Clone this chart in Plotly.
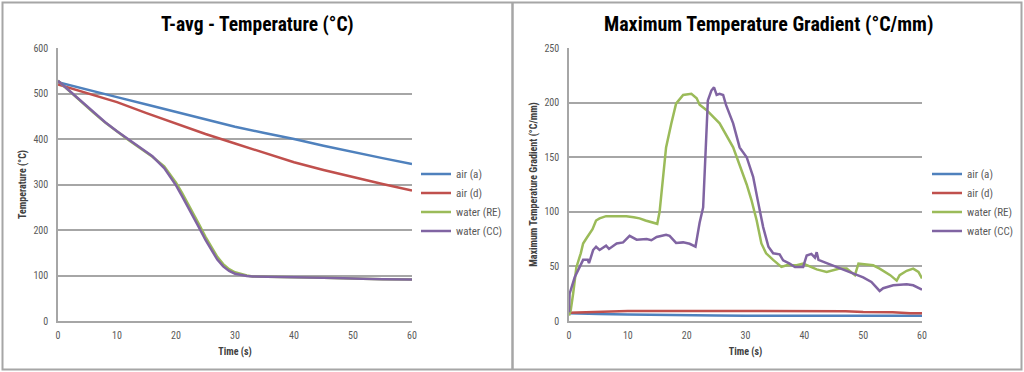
import plotly.graph_objects as go

# ---------------- Left panel: T-avg temperature ----------------
t_air = [0, 5, 10, 15, 20, 25, 30, 35, 40, 45, 50, 55, 60]
temp_air_a = [525, 508, 492, 476, 460, 444, 427, 413, 400, 385, 371, 358, 345]
temp_air_d = [520, 500, 481, 457, 434, 411, 390, 369, 349, 332, 316, 301, 287]

t_water = [0, 2, 4, 6, 8, 10, 12, 14, 16, 18, 19, 20, 21, 22, 23, 24, 25, 26,
           27, 28, 29, 30, 31, 32, 33, 35, 40, 45, 50, 55, 60]
temp_water_re = [528, 504, 481, 458, 436, 416, 397, 379, 361, 340, 323, 304, 282,
                 259, 235, 210, 185, 162, 141, 125, 114, 107, 103, 100, 98, 97,
                 96, 95, 93, 92, 91]
temp_water_cc = [528, 505, 482, 459, 437, 417, 398, 380, 362, 336, 318, 298, 275,
                 252, 228, 203, 178, 155, 135, 120, 110, 104, 101, 99, 98, 97,
                 96, 95, 93, 92, 91]

# ---------------- Right panel: maximum temperature gradient ----------------
t_grad_air_a = [0, 2, 5, 10, 15, 20, 25, 30, 40, 50, 60]
grad_air_a = [7, 7, 6.5, 6, 5.5, 5.2, 5, 4.8, 4.8, 4.8, 4.8]

t_grad_air_d = [0, 3, 6, 10, 20, 30, 40, 47, 50, 55, 58, 60]
grad_air_d = [7.5, 8, 9, 9.2, 9.2, 9.2, 9.0, 9.0, 8.2, 8.0, 7.2, 7.2]

t_grad_re = [0, 0.3, 0.7, 1.25, 2, 2.4, 3, 3.5, 4, 4.6, 5.2, 6.3, 8, 9.75, 11, 12,
             13, 14.3, 15, 15.4, 16, 16.5, 17.4, 18.2, 19.4, 20.8, 21.7, 22.2,
             23.4, 25.6, 27.9, 30.2, 31, 31.9, 32.7, 33.5, 34.7, 36.1, 37, 38.7,
             39.8, 41, 42.1, 43.8, 44.9, 46, 47.2, 48.6, 49.2, 50, 51.7, 52.8,
             54.6, 55.7, 56.2, 57.4, 58.5, 59.4, 60]
grad_re = [5, 10, 25, 49, 62, 71, 76, 80, 84, 92, 94, 96, 96, 96, 95, 94,
           92, 90, 89, 100, 130, 159, 181, 199, 207, 208, 204, 198,
           193, 181, 159, 125, 111, 92, 71, 62, 56, 49.5, 51, 51,
           52.5, 49.5, 47.3, 45, 46.4, 48, 48, 42, 52.5, 52, 51, 48,
           42, 37, 42, 46, 48, 45, 39]

t_grad_cc = [0, 0.1, 0.97, 1.8, 2.4, 3.2, 3.4, 3.7, 4.1, 4.6, 5.2, 6.3, 6.8, 8.1,
             9.2, 10.3, 11.5, 13.2, 14, 14.9, 16.5, 17.1, 18.2, 19.4, 20.5, 21.5,
             22.2, 22.8, 23.2, 23.6, 24.2, 24.65, 25.1, 25.6, 26.2, 26.7, 27.9,
             29, 30.2, 31.3, 32.1, 33, 33.9, 34.7, 35.8, 36.4, 37.5, 38.4, 39.8,
             40.4, 41.2, 41.8, 42.1, 42.4, 43.8, 45.5, 47.2, 48.6, 50, 51.4, 52.3,
             52.8, 53.4, 55.1, 57.4, 58.5, 60]
grad_cc = [8, 25, 40, 49, 56, 56, 53, 58, 65, 68, 65, 69, 66, 71,
           72, 78, 74.5, 75, 74, 77, 79, 78, 71.5, 72, 70.7, 68,
           90, 104, 159, 202, 211, 214, 207, 208, 207, 197.6, 181,
           159, 150, 132, 110, 86, 68, 62, 61, 55.6, 52.5, 49.5, 49.5,
           60, 61.5, 58, 63, 56, 53, 49.5, 46, 43.4, 40, 35.7, 31,
           27.5, 30, 32.7, 33.6, 32.7, 28.7]

series_names = ["air (a)", "air (d)", "water (RE)", "water (CC)"]
colors = ["#4F81BD", "#C0504D", "#9BBB59", "#8064A2"]

W, H = 1024, 372
FONT = "Liberation Sans Narrow, Roboto Condensed, Arial Narrow, sans-serif"
GRAY = "#a6a6a6"
TXT = "#595959"

fig = go.Figure()

left_data = [(t_air, temp_air_a), (t_air, temp_air_d),
             (t_water, temp_water_re), (t_water, temp_water_cc)]
right_data = [(t_grad_air_a, grad_air_a), (t_grad_air_d, grad_air_d),
              (t_grad_re, grad_re), (t_grad_cc, grad_cc)]

for (x, y), name, c in zip(left_data, series_names, colors):
    fig.add_trace(go.Scatter(x=x, y=y, name=name, mode="lines",
                             line=dict(color=c, width=2.5),
                             xaxis="x", yaxis="y", legend="legend"))
for (x, y), name, c in zip(right_data, series_names, colors):
    fig.add_trace(go.Scatter(x=x, y=y, name=name, mode="lines",
                             line=dict(color=c, width=2.5),
                             xaxis="x2", yaxis="y2", legend="legend2"))

def px_x(p):
    return p / W

def px_y(p):
    return (H - p) / H

axis_common = dict(showline=True, linecolor=GRAY, linewidth=1.5, zeroline=False,
                   tickfont=dict(family=FONT, size=10, color=TXT),
                   ticks="", automargin=False)
title_font = dict(family=FONT, size=10, color="#404040")

fig.update_layout(
    width=W, height=H,
    margin=dict(l=0, r=0, t=0, b=0, autoexpand=False),
    paper_bgcolor="white", plot_bgcolor="white",
    font=dict(family=FONT, color=TXT),
    xaxis=dict(domain=[px_x(58), px_x(412)], range=[0, 60], dtick=10,
               showgrid=False, anchor="y", ticklabelstandoff=4,
               title=dict(text="<b>Time (s)</b>", standoff=8, font=title_font),
               **axis_common),
    yaxis=dict(domain=[px_y(321), px_y(48)], range=[0, 600], dtick=100,
               showgrid=True, gridcolor=GRAY, gridwidth=1.5, anchor="x",
               ticklabelstandoff=6,
               title=dict(text="<b>Temperature (°C)</b>", standoff=5, font=title_font),
               **axis_common),
    xaxis2=dict(domain=[px_x(569), px_x(922)], range=[0, 60], dtick=10,
                showgrid=False, anchor="y2", ticklabelstandoff=4,
                title=dict(text="<b>Time (s)</b>", standoff=8, font=title_font),
                **axis_common),
    yaxis2=dict(domain=[px_y(321), px_y(48)], range=[0, 250], dtick=50,
                showgrid=True, gridcolor=GRAY, gridwidth=1.5, anchor="x2",
                ticklabelstandoff=6,
                title=dict(text="<b>Maximum Temperature Gradient (°C/mm)</b>",
                           standoff=5, font=title_font),
                **axis_common),
    legend=dict(x=px_x(416), xanchor="left", y=px_y(202.5), yanchor="middle",
                font=dict(family=FONT, size=11, color=TXT), bgcolor="rgba(0,0,0,0)",
                tracegroupgap=0),
    legend2=dict(x=px_x(927), xanchor="left", y=px_y(202.5), yanchor="middle",
                 font=dict(family=FONT, size=11, color=TXT), bgcolor="rgba(0,0,0,0)",
                 tracegroupgap=0),
    showlegend=True,
)

fig.add_annotation(text="<b>T-avg - Temperature (°C)</b>", x=px_x(257), y=px_y(24),
                   xref="paper", yref="paper", showarrow=False,
                   xanchor="center", yanchor="middle",
                   font=dict(family=FONT, size=19.5, color="black"))
fig.add_annotation(text="<b>Maximum Temperature Gradient (°C/mm)</b>", x=px_x(768), y=px_y(24),
                   xref="paper", yref="paper", showarrow=False,
                   xanchor="center", yanchor="middle",
                   font=dict(family=FONT, size=20, color="black"))

# panel borders
fig.add_shape(type="rect", xref="paper", yref="paper",
              x0=px_x(2.5), x1=px_x(1021.5), y0=px_y(369.5), y1=px_y(2.5),
              line=dict(color=GRAY, width=2), fillcolor="rgba(0,0,0,0)", layer="below")
fig.add_shape(type="line", xref="paper", yref="paper",
              x0=px_x(512.5), x1=px_x(512.5), y0=px_y(369.5), y1=px_y(2.5),
              line=dict(color=GRAY, width=2.5), layer="below")

fig.write_html(
    "out.html",
    config={"displayModeBar": False},
    post_script="document.body.style.margin='0';document.body.style.overflow='hidden';",
)
